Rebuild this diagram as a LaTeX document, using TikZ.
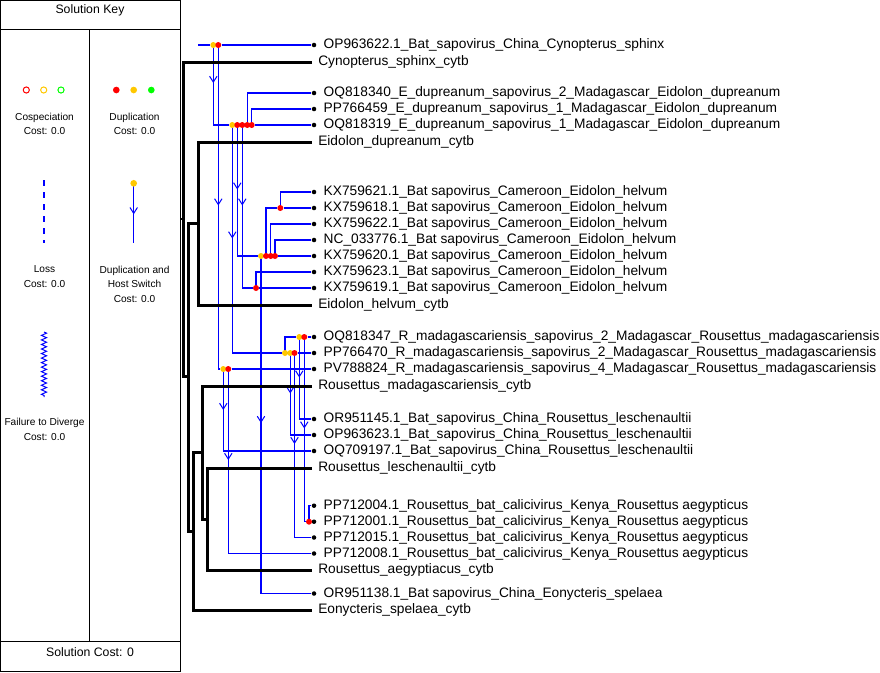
\documentclass[tikz,border=0pt]{standalone}
\usepackage{fontspec}
\setmainfont{Liberation Sans}
\usetikzlibrary{arrows.meta,decorations.markings,decorations.pathmorphing,backgrounds}
\definecolor{evred}{HTML}{FF0000}
\definecolor{evyellow}{HTML}{FFC800}
\definecolor{evgreen}{HTML}{00FF00}
\definecolor{parablue}{HTML}{0000FF}
\newcommand\leaffont{\fontsize{10.3}{12}\selectfont}

\begin{document}
\begin{tikzpicture}[
  x=0.75pt, y=-0.75pt,
  keyline/.style={draw=black, line width=0.75pt},
  keytext/.style={font=\fontsize{7.6}{10.8}\selectfont, align=center, inner sep=0pt},
  keytitle/.style={font=\fontsize{9.2}{11}\selectfont, inner sep=0pt},
  host/.style={draw=black, line width=2.25pt},
  para/.style={draw=parablue, line width=1.1pt},
  hostswitch/.style={postaction={decorate, decoration={markings,
    mark=at position #1*0.75pt with {\arrow[parablue,line width=0.75pt]{Straight Barb[length=4.4pt,width=5.6pt]}}}}},
  dup/.style={circle, fill=#1, inner sep=0pt, minimum size=4.5pt},
  cosp/.style={circle, draw=#1, line width=0.75pt, inner sep=0pt, minimum size=4.6pt},
  pleaf/.style={circle, fill=black, inner sep=0pt, minimum size=3.4pt,
    label={[leaftext]right:#1}},
  leaftext/.style={font=\leaffont, inner sep=0pt, xshift=5.2pt},
  hleaf/.style={anchor=west, inner xsep=4.5pt, inner ysep=0pt, font=\leaffont}
]
\useasboundingbox (0,0) rectangle (880,672);

% solution key
\draw[keyline] (0.5,0.5) rectangle (180,671);
\draw[keyline] (0.5,29) -- (180,29);
\draw[keyline] (89.3,29) -- (89.3,641);
\draw[keyline] (0.5,641) -- (180,641);
\node[keytitle] (keyhead) at (90,10.5) {Solution Key};
\node[keytitle] (keycost) at (90,652) {Solution Cost: 0};

\node[cosp=evred] (kc1) at (26.3,90) {};
\node[cosp=evyellow] (kc2) at (43.7,90) {};
\node[cosp=evgreen] (kc3) at (61,90) {};
\node[keytext] (kcosp) at (44.5,124) {Cospeciation\\Cost: 0.0};

\node[dup=evred, minimum size=5pt] (kd1) at (116.3,90) {};
\node[dup=evyellow, minimum size=5pt] (kd2) at (133.7,90) {};
\node[dup=evgreen, minimum size=5pt] (kd3) at (151.3,90) {};
\node[keytext] (kdup) at (134.5,124) {Duplication\\Cost: 0.0};

\coordinate (kl1) at (44,180);
\coordinate (kl2) at (44,243);
\draw[para, dash pattern=on 4.5pt off 4.5pt] (kl1) -- (kl2);
\node[keytext] (kloss) at (44.5,276.5) {Loss\\Cost: 0.0};

\coordinate (ks1) at (133.7,183.3);
\coordinate (ks2) at (133.7,243.3);
\draw[para, hostswitch=31] (ks1) -- (ks2);
\node[dup=evyellow, minimum size=5pt] (kds) at (ks1) {};
\node[keytext] (kdhs) at (134.5,284) {Duplication and\\Host Switch\\Cost: 0.0};

\coordinate (kz1) at (44,332);
\coordinate (kz2) at (44,397);
\draw[parablue, line width=0.75pt, decorate,
  decoration={zigzag, segment length=3.4pt, amplitude=1.9pt}] (kz1) -- (kz2);
\node[keytext] (kftd) at (44.5,429.5) {Failure to Diverge\\Cost: 0.0};

% host leaves
\node[hleaf] (Csph) at (312,62) {Cynopterus\_sphinx\_cytb};
\node[hleaf] (Edup) at (312,142) {Eidolon\_dupreanum\_cytb};
\node[hleaf] (Ehel) at (312,305) {Eidolon\_helvum\_cytb};
\node[hleaf] (Rmad) at (312,386) {Rousettus\_madagascariensis\_cytb};
\node[hleaf] (Rles) at (312,468) {Rousettus\_leschenaultii\_cytb};
\node[hleaf] (Raeg) at (312,570) {Rousettus\_aegyptiacus\_cytb};
\node[hleaf] (Espe) at (312,610) {Eonycteris\_spelaea\_cytb};

\coordinate (hstub) at (180.5,219);
\coordinate (h1) at (183.3,219);
\coordinate (h2) at (188.3,376.7);
\coordinate (h3) at (198.3,223.5);
\coordinate (h4) at (193.3,531);
\coordinate (h5) at (202.3,452);
\coordinate (h6) at (207.3,519);

% parasite leaves
\node[pleaf={OP963622.1\_Bat\_sapovirus\_China\_Cynopterus\_sphinx}] (OP963622) at (314,45) {};
\node[pleaf={OQ818340\_E\_dupreanum\_sapovirus\_2\_Madagascar\_Eidolon\_dupreanum}] (OQ818340) at (314,93) {};
\node[pleaf={PP766459\_E\_dupreanum\_sapovirus\_1\_Madagascar\_Eidolon\_dupreanum}] (PP766459) at (314,109) {};
\node[pleaf={OQ818319\_E\_dupreanum\_sapovirus\_1\_Madagascar\_Eidolon\_dupreanum}] (OQ818319) at (314,125) {};
\node[pleaf={KX759621.1\_Bat sapovirus\_Cameroon\_Eidolon\_helvum}] (KX759621) at (314,192) {};
\node[pleaf={KX759618.1\_Bat sapovirus\_Cameroon\_Eidolon\_helvum}] (KX759618) at (314,208) {};
\node[pleaf={KX759622.1\_Bat sapovirus\_Cameroon\_Eidolon\_helvum}] (KX759622) at (314,224) {};
\node[pleaf={NC\_033776.1\_Bat sapovirus\_Cameroon\_Eidolon\_helvum}] (NC033776) at (314,240) {};
\node[pleaf={KX759620.1\_Bat sapovirus\_Cameroon\_Eidolon\_helvum}] (KX759620) at (314,256) {};
\node[pleaf={KX759623.1\_Bat sapovirus\_Cameroon\_Eidolon\_helvum}] (KX759623) at (314,272) {};
\node[pleaf={KX759619.1\_Bat sapovirus\_Cameroon\_Eidolon\_helvum}] (KX759619) at (314,288) {};
\node[pleaf={OQ818347\_R\_madagascariensis\_sapovirus\_2\_Madagascar\_Rousettus\_madagascariensis}] (OQ818347) at (314,337) {};
\node[pleaf={PP766470\_R\_madagascariensis\_sapovirus\_2\_Madagascar\_Rousettus\_madagascariensis}] (PP766470) at (314,353) {};
\node[pleaf={PV788824\_R\_madagascariensis\_sapovirus\_4\_Madagascar\_Rousettus\_madagascariensis}] (PV788824) at (314,369) {};
\node[pleaf={OR951145.1\_Bat\_sapovirus\_China\_Rousettus\_leschenaultii}] (OR951145) at (314,419) {};
\node[pleaf={OP963623.1\_Bat\_sapovirus\_China\_Rousettus\_leschenaultii}] (OP963623) at (314,435) {};
\node[pleaf={OQ709197.1\_Bat\_sapovirus\_China\_Rousettus\_leschenaultii}] (OQ709197) at (314,451) {};
\node[pleaf={PP712004.1\_Rousettus\_bat\_calicivirus\_Kenya\_Rousettus aegypticus}] (PP712004) at (314,505.7) {};
\node[pleaf={PP712001.1\_Rousettus\_bat\_calicivirus\_Kenya\_Rousettus aegypticus}] (PP712001) at (314,521.7) {};
\node[pleaf={PP712015.1\_Rousettus\_bat\_calicivirus\_Kenya\_Rousettus aegypticus}] (PP712015) at (314,537.5) {};
\node[pleaf={PP712008.1\_Rousettus\_bat\_calicivirus\_Kenya\_Rousettus aegypticus}] (PP712008) at (314,553.5) {};
\node[pleaf={OR951138.1\_Bat sapovirus\_China\_Eonycteris\_spelaea}] (OR951138) at (314,593.5) {};

% parasite events
\coordinate (proot) at (198,45);
\node[dup=evyellow] (pA) at (213.3,45) {};
\node[dup=evred] (pC) at (218.3,45) {};
\node[dup=evyellow] (pB) at (232.3,125) {};
\node[dup=evred] (pD) at (237.3,125) {};
\node[dup=evred] (pE) at (242.3,125) {};
\node[dup=evred] (pE2) at (247.3,125) {};
\node[dup=evred] (pE3) at (251.7,125) {};
\node[dup=evyellow] (pF) at (261,256) {};
\node[dup=evred] (pF2) at (266,256) {};
\node[dup=evred] (pF3) at (270.7,256) {};
\node[dup=evred] (pF4) at (275,256) {};
\node[dup=evred] (pF5) at (280.3,208) {};
\node[dup=evred] (pG) at (256,288) {};
\node[dup=evyellow] (pH) at (285,353) {};
\node[dup=evyellow] (pH2) at (290.3,353) {};
\node[dup=evred] (pH3) at (294.5,353) {};
\node[dup=evyellow] (pI) at (299.3,337) {};
\node[dup=evred] (pI2) at (304.3,337) {};
\node[dup=evred] (pJ) at (309,521.7) {};
\node[dup=evyellow] (pK) at (223.3,369) {};
\node[dup=evred] (pK2) at (228.3,369) {};

\begin{scope}[on background layer]
% parasite tree
\draw[para] (proot) -- (pA) -- (pC) -- (OP963622);
\draw[para,hostswitch=38] (pA.center) |- (pB);
\draw[para,hostswitch=160.5] (pC.center) |- (pK);
\draw[para] (pB) -- (pD) -- (pE) -- (pE2) -- (pE3) -- (OQ818319);
\draw[para,hostswitch=113.5] (pB.center) |- (pH);
\draw[para,hostswitch=64.5] (pD.center) |- (pF);
\draw[para,hostswitch=80.5] (pE.center) |- (pG);
\draw[para] (pE2.center) |- (OQ818340);
\draw[para] (pE3.center) |- (PP766459);
\draw[para] (pF) -- (pF2) -- (pF3) -- (pF4) -- (KX759620);
\draw[para,hostswitch=167] (pF.center) |- (OR951138);
\draw[para] (pF2.center) |- (pF5);
\draw[para] (pF5) -- (KX759618);
\draw[para] (pF5.center) |- (KX759621);
\draw[para] (pF3.center) |- (KX759622);
\draw[para] (pF4.center) |- (NC033776);
\draw[para] (pG) -- (KX759619);
\draw[para] (pG.center) |- (KX759623);
\draw[para] (pH) -- (pH2) -- (pH3) -- (PP766470);
\draw[para] (pH.center) |- (pI);
\draw[para] (pI) -- (pI2) -- (OQ818347);
\draw[para,hostswitch=40.5] (pI.center) |- (OR951145);
\draw[para,hostswitch=91.5] (pI2.center) |- (pJ);
\draw[para] (pJ) -- (PP712001);
\draw[para] (pJ.center) |- (PP712004);
\draw[para,hostswitch=40.5] (pH2.center) |- (OP963623);
\draw[para,hostswitch=91] (pH3.center) |- (PP712015);
\draw[para] (pK) -- (pK2) -- (PV788824);
\draw[para,hostswitch=41] (pK.center) |- (OQ709197);
\draw[para,hostswitch=91] (pK2.center) |- (PP712008);
% host tree
\draw[host, line width=1.5pt] (hstub) -- (h1);
\draw[host] (Csph) -| (h1) |- (h2);
\draw[host] (h3) -| (h2) |- (h4);
\draw[host] (Edup) -| (h3) |- (Ehel);
\draw[host] (h5) -| (h4) |- (Espe);
\draw[host] (Rmad) -| (h5) |- (h6);
\draw[host] (Rles) -| (h6) |- (Raeg);
\end{scope}
\end{tikzpicture}
\end{document}
